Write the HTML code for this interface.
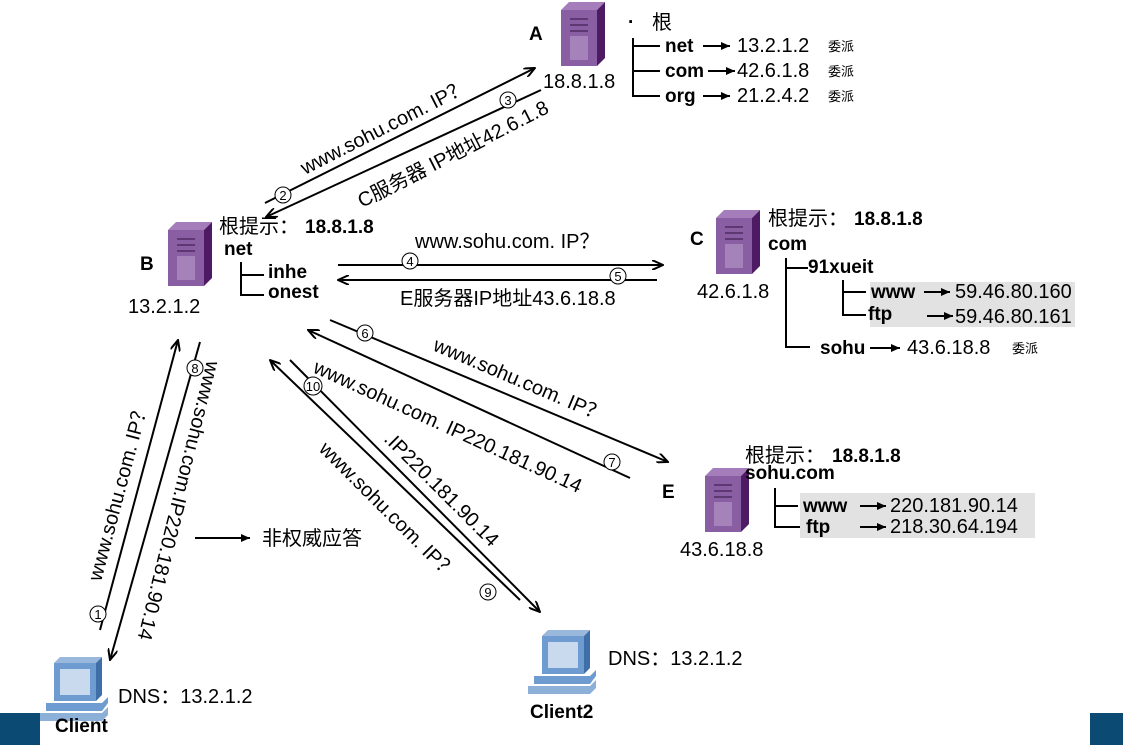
<!DOCTYPE html>
<html><head><meta charset="utf-8"><style>
html,body{margin:0;padding:0;background:#fff;}
svg{display:block;font-family:"Liberation Sans","Noto Sans CJK SC",sans-serif;}
</style></head><body>
<svg width="1123" height="745" viewBox="0 0 1123 745" xmlns="http://www.w3.org/2000/svg">
<defs>
<marker id="ar" markerWidth="12" markerHeight="10" refX="11" refY="5" orient="auto" markerUnits="userSpaceOnUse">
<path d="M0,0 L11,5 L0,10" fill="none" stroke="#000" stroke-width="2"/></marker>
<marker id="as" markerWidth="10" markerHeight="8" refX="9" refY="4" orient="auto" markerUnits="userSpaceOnUse">
<path d="M0,0 L9,4 L0,8 Z" fill="#000"/></marker>
<g id="srv">
<polygon points="0,8 8,0 44,0 36,8" fill="#a57dbb"/>
<polygon points="36,8 44,0 44,56 36,64" fill="#4e1a63"/>
<rect x="0" y="8" width="36" height="56" fill="#8a5ea3"/>
<rect x="9" y="16" width="18" height="2" fill="#5e3872"/>
<rect x="9" y="22" width="18" height="2" fill="#5e3872"/>
<rect x="9" y="28" width="18" height="2" fill="#5e3872"/>
<rect x="9" y="34" width="18" height="24" fill="#a682bb"/>
</g>
<g id="pc">
<polygon points="14,6 20,0 62,0 56,6" fill="#9ab8dc"/>
<rect x="14" y="6" width="42" height="38" fill="#6e9bd0"/>
<polygon points="56,6 62,0 62,38 56,44" fill="#3e6fa8"/>
<rect x="20" y="12" width="30" height="26" fill="#c9d9ee"/>
<polygon points="6,46 62,46 68,40 68,46 62,54 6,54" fill="#6e9bd0"/>
<polygon points="0,56 62,56 68,50 68,58 62,64 0,64" fill="#8db0d8"/>
</g>
</defs>
<style>
.t{font-size:20px;fill:#000}
.b{font-size:19px;font-weight:bold;fill:#000}
.s{font-size:13px;fill:#000}
line{stroke:#000;stroke-width:2}
.c{fill:#fff;stroke:#000;stroke-width:1}
.cn{font-size:13px;text-anchor:middle;fill:#000}
</style>
<rect x="0" y="713" width="40" height="32" fill="#0b4a72"/>
<rect x="1090" y="713" width="33" height="32" fill="#0b4a72"/>

<use href="#srv" x="561" y="2"/>
<text x="529" y="40" class="b">A</text>
<text x="543" y="88" class="t">18.8.1.8</text>
<use href="#srv" x="168" y="222"/>
<text x="140" y="270" class="b">B</text>
<text x="128" y="313" class="t">13.2.1.2</text>
<use href="#srv" x="716" y="210"/>
<text x="690" y="245" class="b">C</text>
<text x="697" y="298" class="t">42.6.1.8</text>
<use href="#srv" x="705" y="468"/>
<text x="662" y="498" class="b">E</text>
<text x="680" y="556" class="t">43.6.18.8</text>

<!-- A tree -->
<text x="628" y="28" class="b">·</text><text x="652" y="29" class="t">根</text>
<path d="M633,38 V96 H660 M633,46 H660 M633,71 H660" fill="none" stroke="#000" stroke-width="2"/>
<text x="665" y="52" class="b">net</text><line x1="703" y1="46" x2="730" y2="46" marker-end="url(#as)"/><text x="737" y="52" class="t">13.2.1.2</text><text x="828" y="51" class="s">委派</text>
<text x="665" y="77" class="b">com</text><line x1="708" y1="71" x2="735" y2="71" marker-end="url(#as)"/><text x="737" y="77" class="t">42.6.1.8</text><text x="828" y="76" class="s">委派</text>
<text x="665" y="102" class="b">org</text><line x1="703" y1="96" x2="730" y2="96" marker-end="url(#as)"/><text x="737" y="102" class="t">21.2.4.2</text><text x="828" y="101" class="s">委派</text>

<!-- B tree -->
<text x="219" y="233" class="t">根提示：</text><text x="305" y="233" class="b">18.8.1.8</text>
<text x="224" y="255" class="b">net</text>
<path d="M241,262 V295 H264 M241,275 H264" fill="none" stroke="#000" stroke-width="2"/>
<text x="268" y="278" class="b">inhe</text>
<text x="268" y="298" class="b">onest</text>

<!-- C tree -->
<rect x="870" y="282" width="205" height="45" fill="#e2e2e2"/>
<text x="768" y="225" class="t">根提示：</text><text x="854" y="225" class="b">18.8.1.8</text>
<text x="768" y="250" class="b">com</text>
<path d="M786,258 V347 H810 M786,268 H808" fill="none" stroke="#000" stroke-width="2"/>
<text x="808" y="273" class="b">91xueit</text>
<path d="M843,280 V315 H866 M843,292 H866" fill="none" stroke="#000" stroke-width="2"/>
<text x="871" y="298" class="b">www</text><line x1="924" y1="292" x2="950" y2="292" marker-end="url(#as)"/><text x="955" y="298" class="t">59.46.80.160</text>
<text x="868" y="320" class="b">ftp</text><line x1="927" y1="316" x2="953" y2="316" marker-end="url(#as)"/><text x="955" y="323" class="t">59.46.80.161</text>
<text x="820" y="354" class="b">sohu</text><line x1="870" y1="348" x2="900" y2="348" marker-end="url(#as)"/><text x="907" y="354" class="t">43.6.18.8</text><text x="1012" y="353" class="s">委派</text>

<!-- E tree -->
<rect x="800" y="493" width="235" height="45" fill="#e2e2e2"/>
<text x="745" y="462" class="t">根提示：</text><text x="832" y="462" class="b">18.8.1.8</text>
<text x="745" y="479" class="b">sohu.com</text>
<path d="M775,488 V527 H800 M775,506 H798" fill="none" stroke="#000" stroke-width="2"/>
<text x="803" y="512" class="b">www</text><line x1="860" y1="506" x2="886" y2="506" marker-end="url(#as)"/><text x="890" y="512" class="t">220.181.90.14</text>
<text x="806" y="533" class="b">ftp</text><line x1="860" y1="527" x2="886" y2="527" marker-end="url(#as)"/><text x="890" y="533" class="t">218.30.64.194</text>

<!-- clients -->
<use href="#pc" x="40" y="657"/>
<text x="55" y="732" class="b">Client</text>
<text x="118" y="703" class="t">DNS：13.2.1.2</text>
<use href="#pc" x="528" y="630"/>
<text x="530" y="718" class="b">Client2</text>
<text x="608" y="665" class="t">DNS：13.2.1.2</text>

<!-- B-A arrows -->
<line x1="265" y1="203" x2="535" y2="68" marker-end="url(#ar)"/>
<line x1="541" y1="90" x2="266" y2="217" marker-end="url(#ar)"/>
<circle cx="283" cy="195" r="8" class="c"/><text x="283" y="200" class="cn">2</text>
<circle cx="508" cy="100" r="8" class="c"/><text x="508" y="105" class="cn">3</text>
<text class="t" transform="translate(305,175) rotate(-27)">www.sohu.com.  IP？</text>
<text class="t" transform="translate(362,208) rotate(-27)">C服务器 IP地址42.6.1.8</text>

<!-- B-C -->
<line x1="338" y1="265" x2="663" y2="265" marker-end="url(#ar)"/>
<line x1="657" y1="280" x2="338" y2="280" marker-end="url(#ar)"/>
<circle cx="410" cy="261" r="8" class="c"/><text x="410" y="266" class="cn">4</text>
<circle cx="618" cy="276" r="8" class="c"/><text x="618" y="281" class="cn">5</text>
<text x="415" y="248" class="t">www.sohu.com.  IP？</text>
<text x="400" y="305" class="t">E服务器IP地址43.6.18.8</text>

<!-- B-E -->
<line x1="330" y1="320" x2="668" y2="462" marker-end="url(#ar)"/>
<line x1="630" y1="478" x2="308" y2="330" marker-end="url(#ar)"/>
<circle cx="365" cy="333" r="8" class="c"/><text x="365" y="338" class="cn">6</text>
<circle cx="612" cy="462" r="8" class="c"/><text x="612" y="467" class="cn">7</text>
<text class="t" transform="translate(432,350) rotate(23)">www.sohu.com.  IP？</text>
<text class="t" transform="translate(312,372) rotate(24.5)">www.sohu.com. IP220.181.90.14</text>

<!-- B-Client2 -->
<line x1="290" y1="360" x2="540" y2="612" marker-end="url(#ar)"/>
<line x1="520" y1="600" x2="270" y2="360" marker-end="url(#ar)"/>
<circle cx="313" cy="386" r="9" class="c"/><text x="313" y="391" class="cn">10</text>
<circle cx="488" cy="592" r="8" class="c"/><text x="488" y="597" class="cn">9</text>
<text class="t" transform="translate(318,450) rotate(45)">www.sohu.com.  IP？</text>
<text class="t" transform="translate(383,440) rotate(45)">.IP220.181.90.14</text>

<!-- B-Client -->
<line x1="100" y1="630" x2="178" y2="340" marker-end="url(#ar)"/>
<line x1="200" y1="342" x2="110" y2="660" marker-end="url(#ar)"/>
<circle cx="98" cy="614" r="8" class="c"/><text x="98" y="619" class="cn">1</text>
<circle cx="195" cy="368" r="8" class="c"/><text x="195" y="373" class="cn">8</text>
<text class="t" transform="translate(101,582) rotate(-75)">www.sohu.com.  IP？</text>
<text class="t" transform="translate(207,360) rotate(104)">www.sohu.com.IP220.181.90.14</text>
<line x1="195" y1="538" x2="250" y2="538" stroke-width="1" marker-end="url(#as)"/>
<text x="262" y="545" class="t">非权威应答</text>
</svg>
</body></html>
